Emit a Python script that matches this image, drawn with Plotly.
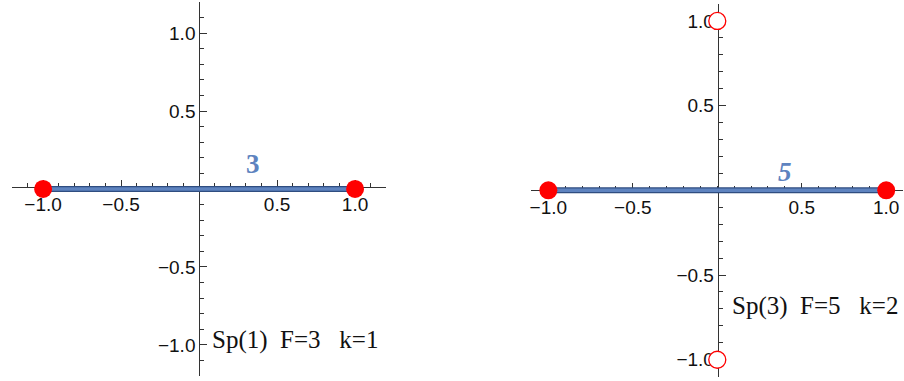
import plotly.graph_objects as go

# panel data
seg_x = [-1.0, 1.0]
seg_y = [0.0, 0.0]

left_dots_x = [-1.0, 1.0]
left_dots_y = [0.0, 0.0]

right_dots_x = [-1.0, 1.0]
right_dots_y = [0.0, 0.0]
right_open_x = [0.0, 0.0]
right_open_y = [1.0, -1.0]

tick_vals = [-1.0, -0.5, 0.5, 1.0]
tick_text = ['\u22121.0', '\u22120.5', '0.5', '1.0']

left_label = '3'
right_label = '5'
left_caption = 'Sp(1)\u00a0\u00a0F=3\u00a0\u00a0\u00a0k=1'
right_caption = 'Sp(3)\u00a0\u00a0F=5\u00a0\u00a0\u00a0k=2'

RED = '#ff0000'
BLUE = '#5e83bf'
DARK_BLUE = '#2f4d80'
AXIS = '#333333'

fig = go.Figure()

for xa, ya in [('x', 'y'), ('x2', 'y2')]:
    # blue segment with darker edge
    fig.add_trace(go.Scatter(x=seg_x, y=seg_y, mode='lines', xaxis=xa, yaxis=ya,
                             line=dict(color=DARK_BLUE, width=6), hoverinfo='skip'))
    fig.add_trace(go.Scatter(x=seg_x, y=seg_y, mode='lines', xaxis=xa, yaxis=ya,
                             line=dict(color=BLUE, width=3.5), hoverinfo='skip'))

fig.add_trace(go.Scatter(x=left_dots_x, y=left_dots_y, mode='markers', xaxis='x', yaxis='y',
                         marker=dict(color=RED, size=18, line=dict(width=0))))
fig.add_trace(go.Scatter(x=right_dots_x, y=right_dots_y, mode='markers', xaxis='x2', yaxis='y2',
                         marker=dict(color=RED, size=18, line=dict(width=0))))
fig.add_trace(go.Scatter(x=right_open_x, y=right_open_y, mode='markers', xaxis='x2', yaxis='y2',
                         marker=dict(color='white', size=17, line=dict(color=RED, width=1.3))))


def axis_style(rng, dom, pos):
    return dict(
        domain=dom, range=rng, anchor='free', position=pos,
        showline=True, linecolor=AXIS, linewidth=1, showgrid=False, zeroline=False,
        ticks='inside', ticklen=7, tickcolor=AXIS, tickwidth=1,
        tickvals=tick_vals, ticktext=tick_text,
        minor=dict(ticks='inside', ticklen=4, tickcolor=AXIS, dtick=0.1, tick0=0, showgrid=False),
        tickfont=dict(family='Liberation Sans, Arial', size=19, color='#111111'),
        layer='below traces', fixedrange=True,
    )


fig.update_layout(
    width=904, height=381,
    margin=dict(l=0, r=0, t=0, b=0),
    paper_bgcolor='white', plot_bgcolor='white',
    showlegend=False,
    xaxis=axis_style([-1.2, 1.2], [0.011, 0.426], 0.508),
    yaxis=axis_style([-1.2, 1.2], [0.013, 0.995], 0.2187),
    xaxis2=axis_style([-1.1, 1.1], [0.587, 0.999], 0.5004),
    yaxis2=axis_style([-1.1, 1.1], [0.0113, 0.9895], 0.7935),
)

fig.add_annotation(x=0.345, y=0.16, xref='x', yref='y', text='<b>' + left_label + '</b>',
                   showarrow=False, font=dict(family='Liberation Serif', size=27, color=BLUE))
fig.add_annotation(x=0.40, y=0.11, xref='x2', yref='y2', text='<b><i>' + right_label + '</i></b>',
                   showarrow=False, font=dict(family='Liberation Serif', size=27, color=BLUE))
fig.add_annotation(x=0.072, y=-0.97, xref='x', yref='y', text=left_caption, xanchor='left',
                   showarrow=False, font=dict(family='Liberation Serif', size=25, color='#111111'))
fig.add_annotation(x=0.075, y=-0.68, xref='x2', yref='y2', text=right_caption, xanchor='left',
                   showarrow=False, font=dict(family='Liberation Serif', size=25, color='#111111'))

# drop the browser's default body margin so the figure sits at (0, 0)
fig.write_html('out.html', config={'displayModeBar': False},
               post_script="document.body.style.margin='0';")
